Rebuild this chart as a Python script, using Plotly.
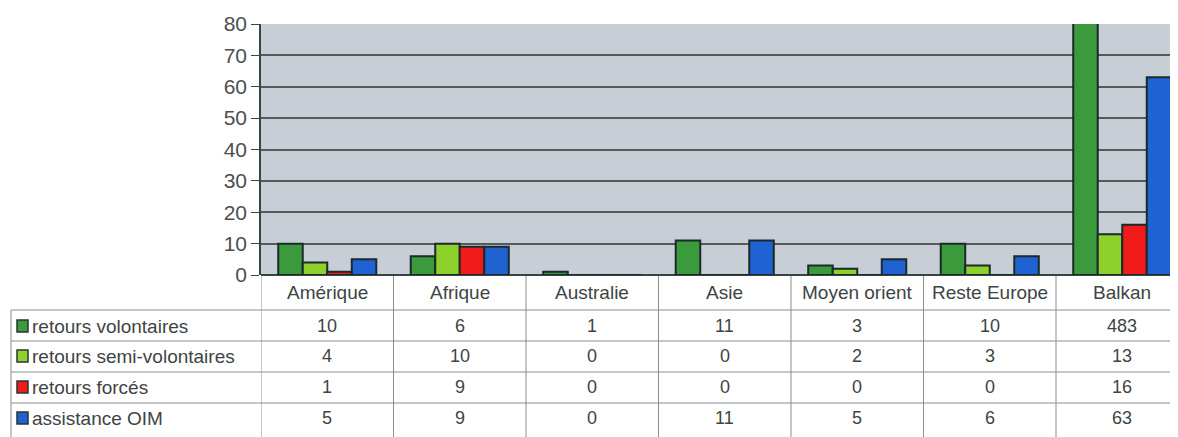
import plotly.graph_objects as go

categories = ["Amérique", "Afrique", "Australie", "Asie", "Moyen orient", "Reste Europe", "Balkan"]
series_names = ["retours volontaires", "retours semi-volontaires", "retours forcés", "assistance OIM"]
volontaires = [10, 6, 1, 11, 3, 10, 483]
semi_volontaires = [4, 10, 0, 0, 2, 3, 13]
forces = [1, 9, 0, 0, 0, 0, 16]
assistance_oim = [5, 9, 0, 11, 5, 6, 63]
y_ticks = [0, 10, 20, 30, 40, 50, 60, 70, 80]

series_values = [volontaires, semi_volontaires, forces, assistance_oim]
colors = ["#3b9a3b", "#8fd12c", "#f21b1b", "#1f62d2"]

# page body has an 8px margin: work in screen pixels, convert to figure pixels
OFF = 8
W, H = 1178 - OFF, 437 - OFF
ML = 261 - OFF
MT = 24 - OFF
MR = 2
MB = H - (275 - OFF)
plot_h = H - MT - MB
plot_w = W - ML - MR
col_px = 132.5

def py(pix):
    return (H - MB - (pix - OFF)) / plot_h

def px(pix):
    return (pix - OFF - ML) / plot_w

fig = go.Figure()
idx = list(range(len(categories)))
for name, vals, c in zip(series_names, series_values, colors):
    fig.add_trace(go.Bar(
        x=idx, y=vals, name=name,
        marker=dict(color=c, line=dict(color="#1b2a2a", width=2)),
        showlegend=False,
    ))

shapes = []
annotations = []
line_col = "#8a8f92"
font = "Liberation Sans, Arial, sans-serif"
txt_col = "#3e4444"

# vertical table lines
for i in range(len(categories)):
    shapes.append(dict(type="line", xref="x", yref="paper", x0=i - 0.5, x1=i - 0.5,
                       y0=py(440), y1=py(276), line=dict(color=line_col, width=1)))
# legend box left border
shapes.append(dict(type="line", xref="paper", yref="paper", x0=px(11), x1=px(11),
                   y0=py(440), y1=py(310), line=dict(color=line_col, width=1)))
# horizontal table lines
row_tops = [310, 341, 372, 403]
for yy in row_tops:
    shapes.append(dict(type="line", xref="paper", yref="paper", x0=px(11), x1=1,
                       y0=py(yy), y1=py(yy), line=dict(color=line_col, width=1)))

# header labels
for i, cat in enumerate(categories):
    annotations.append(dict(x=i, y=py(292), xref="x", yref="paper", text=cat,
                            showarrow=False, font=dict(family=font, size=19, color=txt_col),
                            xanchor="center", yanchor="middle"))

row_centers = [326, 356, 387, 418]
for r, (name, vals, c) in enumerate(zip(series_names, series_values, colors)):
    yc = row_centers[r]
    shapes.append(dict(type="rect", xref="paper", yref="paper",
                       x0=px(17), x1=px(28), y0=py(yc + 6), y1=py(yc - 6),
                       fillcolor=c, line=dict(color="#2a3636", width=1.5)))
    annotations.append(dict(x=px(30), y=py(yc), xref="paper", yref="paper", text=name,
                            showarrow=False, font=dict(family=font, size=19, color=txt_col),
                            xanchor="left", yanchor="middle"))
    for i, v in enumerate(vals):
        annotations.append(dict(x=i, y=py(yc), xref="x", yref="paper", text=str(v),
                                showarrow=False, font=dict(family=font, size=18, color=txt_col),
                                xanchor="center", yanchor="middle"))

x_end = -0.5 + plot_w / col_px

fig.update_layout(
    width=W, height=H,
    margin=dict(l=ML, r=MR, t=MT, b=MB),
    paper_bgcolor="white",
    plot_bgcolor="#c8ced6",
    barmode="group",
    bargap=0.26,
    bargroupgap=0,
    shapes=shapes,
    annotations=annotations,
    xaxis=dict(range=[-0.5, x_end], showticklabels=False, showgrid=False, zeroline=False,
               showline=False, ticks=""),
    yaxis=dict(range=[0, 80], tickvals=y_ticks, showgrid=True, gridcolor="#535b5b", gridwidth=1.5,
               zeroline=True, zerolinecolor="#3a4444", zerolinewidth=1.5,
               showline=True, linecolor="#3a4444", linewidth=1.5,
               ticks="outside", ticklen=8, tickcolor="#3a4444",
               tickfont=dict(family=font, size=21, color="#4a5050")),
)

fig.write_html("out.html")
